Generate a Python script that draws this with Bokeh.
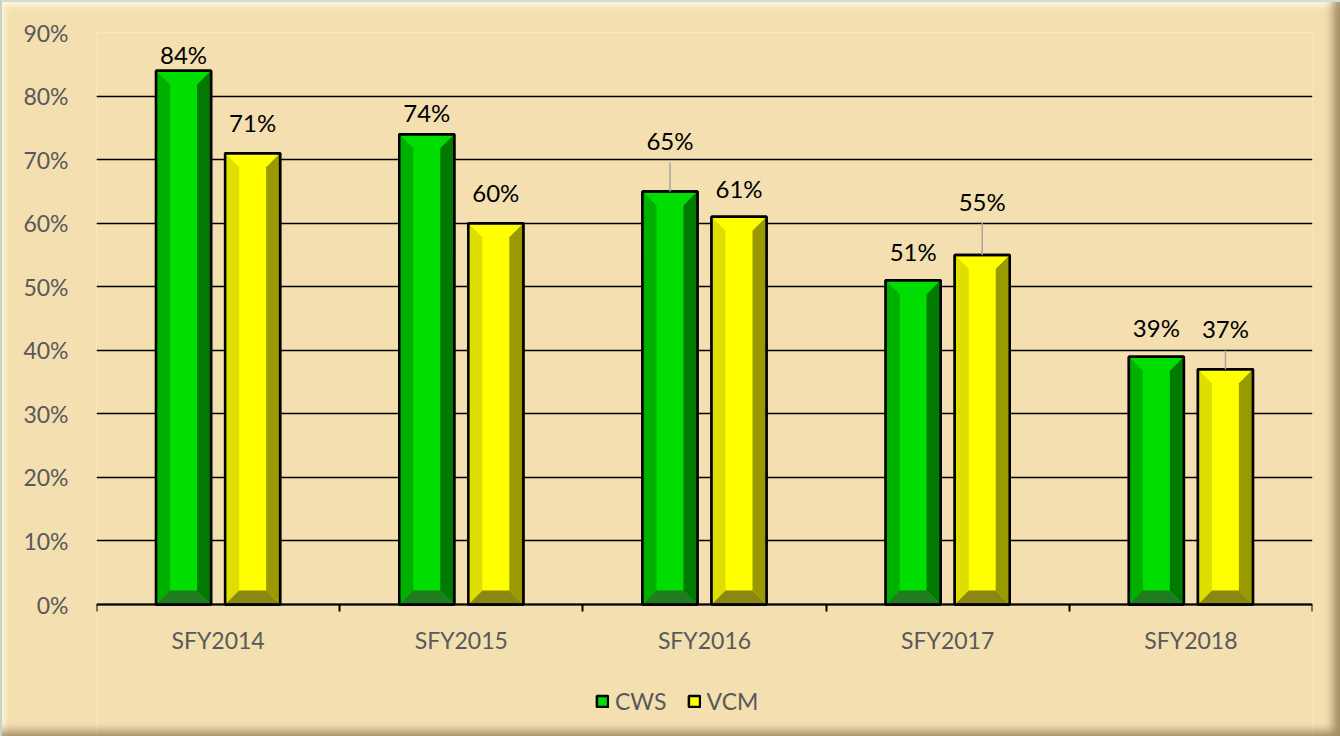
import numpy as np
from bokeh.plotting import figure
from bokeh.models import (FixedTicker, Range1d, Legend, LegendItem, ColumnDataSource,
                          LabelSet, PrintfTickFormatter, CustomJSTickFormatter, InlineStyleSheet)
from bokeh.core.properties import value
from bokeh.embed import file_html
from bokeh.resources import INLINE

# ---------------- data ----------------
categories = ["SFY2014", "SFY2015", "SFY2016", "SFY2017", "SFY2018"]
series_names = ["CWS", "VCM"]
cws_values = [84, 74, 65, 51, 39]
vcm_values = [71, 60, 61, 55, 37]
y_ticks = [0, 10, 20, 30, 40, 50, 60, 70, 80, 90]

# ---------------- styles ----------------
FONT = "Lato"
BG = "#F3DFB0"
PLOT_H_PX = 572          # height of the 0..90 % span
BELOW_PX = 132           # space under the 0 % line (axis labels + legend)
FRAME_W_PX = 1216
Y_MAX = 90
px_y = Y_MAX / PLOT_H_PX
px_x = len(categories) / FRAME_W_PX
series_styles = [
    dict(center="#00DD00", left="#00B000", right="#007A00", bottom="#1F7D1F"),
    dict(center="#FFFF00", left="#DEDE00", right="#999900", bottom="#8A8810"),
]
offsets = [-0.142, 0.142]
half_w = 0.113
bev_x = 14 * px_x
bev_y = 14 * px_y
# label gap above bar top (px) and whether a leader line is drawn
label_gaps = [[7, 12, 41, 19, 20], [21, 21, 19, 44, 31]]
leaders = [[False, False, True, False, False], [False, False, False, True, True]]

frame_css = InlineStyleSheet(css="""
:host { position: relative; }
:host::after {
  content: ""; position: absolute; left: 0; top: 0; right: 0; bottom: 0;
  pointer-events: none; z-index: 10;
  border-left: 2px solid #C9D2C6; border-top: 2px solid #D5DDD2;
  box-shadow: inset -9px -7px 9px -2px rgba(95, 75, 40, 0.55),
              inset 5px 6px 6px -2px rgba(255, 250, 225, 0.9);
}
""")

p = figure(frame_width=FRAME_W_PX, frame_height=PLOT_H_PX + BELOW_PX,
           output_backend="svg", toolbar_location=None,
           x_range=Range1d(0, len(categories)), y_range=Range1d(-BELOW_PX * px_y, Y_MAX),
           min_border_left=96, min_border_right=28, min_border_top=32, min_border_bottom=0,
           stylesheets=[frame_css])
p.background_fill_color = BG
p.border_fill_color = BG
p.outline_line_color = None
p.xgrid.grid_line_color = None
p.ygrid.ticker = FixedTicker(ticks=y_ticks)
p.ygrid.grid_line_color = "black"
p.ygrid.grid_line_width = 1.6

# y axis
p.yaxis.ticker = FixedTicker(ticks=y_ticks)
p.yaxis.formatter = PrintfTickFormatter(format="%d%%")
p.yaxis.axis_line_color = None
p.yaxis.major_tick_line_color = None
p.yaxis.minor_tick_line_color = None
p.yaxis.major_label_standoff = 22
p.yaxis.major_label_text_font = FONT
p.yaxis.major_label_text_font_size = "23px"
p.yaxis.major_label_text_color = "#595959"

# x axis (pinned at 0 %)
n = len(categories)
xc = np.arange(n) + 0.5
p.xaxis.fixed_location = 0
p.xaxis.ticker = FixedTicker(ticks=list(xc), minor_ticks=list(range(n + 1)))
p.xaxis.formatter = CustomJSTickFormatter(args=dict(cats=categories),
                                          code="return cats[Math.floor(tick)];")
p.xaxis.axis_line_color = "black"
p.xaxis.axis_line_width = 2
p.xaxis.major_tick_line_color = None
p.xaxis.major_tick_out = 0
p.xaxis.major_tick_in = 0
p.xaxis.minor_tick_line_color = "black"
p.xaxis.minor_tick_line_width = 2
p.xaxis.minor_tick_out = 7
p.xaxis.minor_tick_in = 0
p.xaxis.major_label_standoff = 14
p.xaxis.major_label_text_font = FONT
p.xaxis.major_label_text_font_size = "23px"
p.xaxis.major_label_text_color = "#595959"

legend_items = []
for si, vals in enumerate([cws_values, vcm_values]):
    st = series_styles[si]
    vals = np.array(vals, dtype=float)
    cx = xc + offsets[si]
    x0 = cx - half_w
    x1 = cx + half_w
    base = p.quad(left=x0, right=x1, bottom=0, top=vals, fill_color=st["center"],
                  line_color="black", line_width=2.5)
    # left bevel
    p.patches([[a, a, a + bev_x, a + bev_x] for a in x0],
              [[0, v, v - bev_y, bev_y] for v in vals],
              fill_color=st["left"], line_color=None)
    # right bevel
    p.patches([[b, b, b - bev_x, b - bev_x] for b in x1],
              [[0, v, v - bev_y, bev_y] for v in vals],
              fill_color=st["right"], line_color=None)
    # bottom bevel
    p.patches([[a, b, b - bev_x, a + bev_x] for a, b in zip(x0, x1)],
              [[0, 0, bev_y, bev_y] for _ in vals],
              fill_color=st["bottom"], line_color=None)
    # outline on top
    p.quad(left=x0, right=x1, bottom=0, top=vals, fill_color=None,
           line_color="black", line_width=2.5)
    # leader lines
    for i, v in enumerate(vals):
        if leaders[si][i]:
            p.segment(x0=[cx[i]], y0=[v], x1=[cx[i]], y1=[v + (label_gaps[si][i] - 12) * px_y],
                      line_color="#A6A6A6", line_width=1.5)
    src = ColumnDataSource(dict(x=cx, y=vals, text=[f"{int(v)}%" for v in vals],
                                off=label_gaps[si]))
    p.add_layout(LabelSet(x="x", y="y", text="text", y_offset="off", source=src,
                          text_align="center", text_baseline="alphabetic",
                          text_font=value(FONT), text_font_size="24px", text_color="black"))
    legend_items.append(LegendItem(label=series_names[si], renderers=[base]))

legend = Legend(items=legend_items, orientation="horizontal", location=(499, 21),
                background_fill_alpha=0, border_line_color=None,
                label_text_font=FONT, label_text_font_size="23px", label_text_color="#595959",
                glyph_width=14, glyph_height=14, spacing=20, label_standoff=6,
                padding=4, margin=0)
p.add_layout(legend, "center")

open("out.html", "w").write(file_html(p, INLINE))
